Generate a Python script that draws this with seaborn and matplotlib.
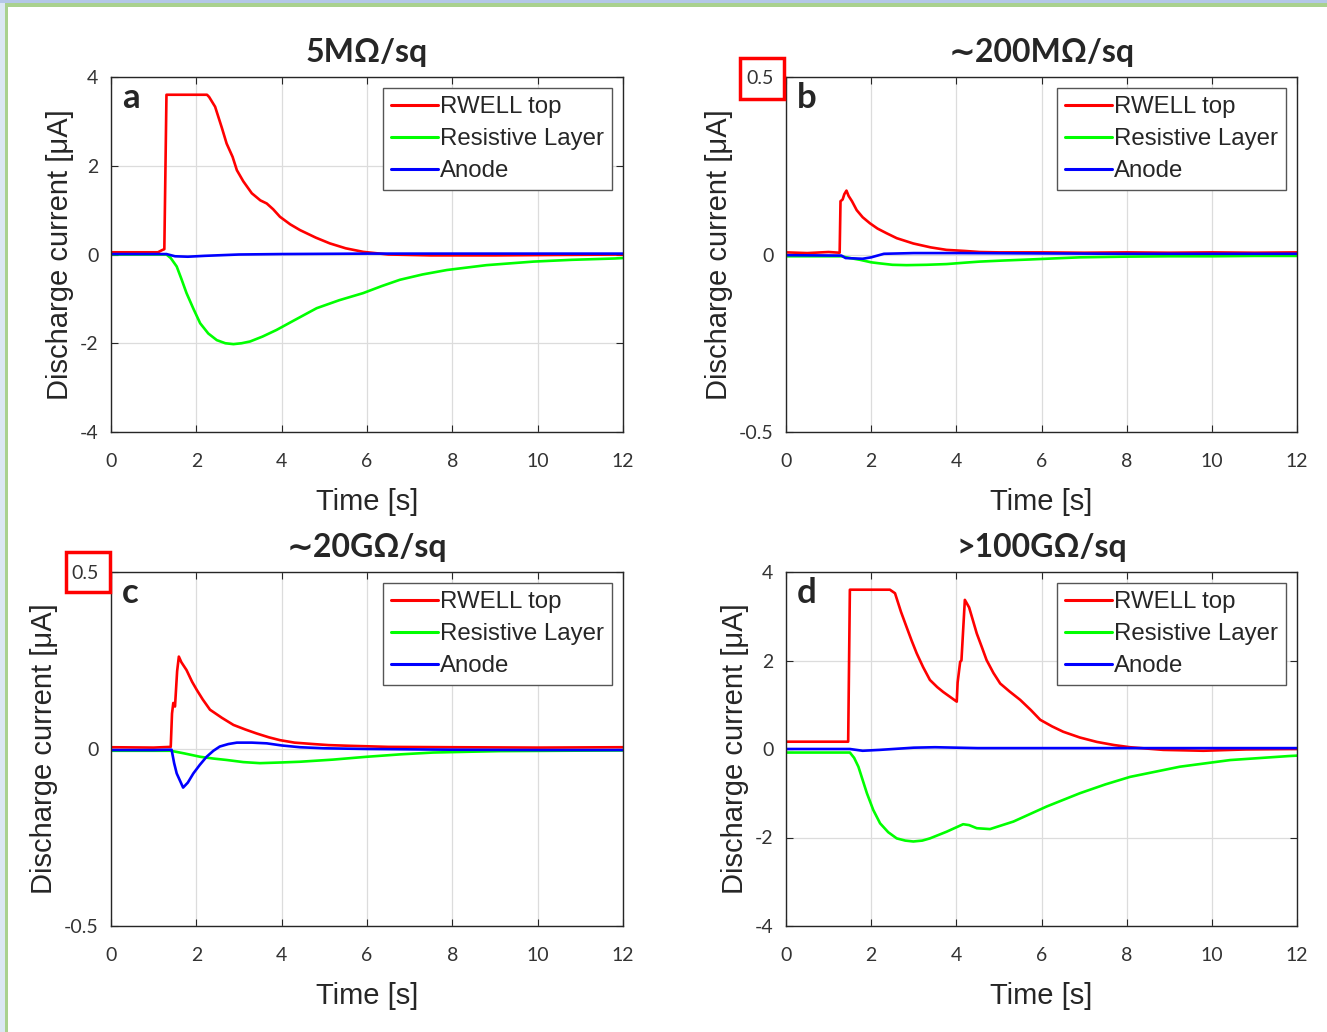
import numpy as np
import pandas as pd
import matplotlib
matplotlib.use("Agg")
import matplotlib.pyplot as plt
from matplotlib.patches import Rectangle
import seaborn as sns

# ---------------- data ----------------
series_names = ["RWELL top", "Resistive Layer", "Anode"]
series_colors = ["#ff0000", "#00ff00", "#0000ff"]
panel_titles = ["5M\u03a9/sq", "\u223c200M\u03a9/sq", "\u223c20G\u03a9/sq", ">100G\u03a9/sq"]
panel_letters = ["a", "b", "c", "d"]
x_ticks = [0, 2, 4, 6, 8, 10, 12]
y_ticks_big = [-4, -2, 0, 2, 4]
y_ticks_small = [-0.5, 0, 0.5]

# panel a : 5 MOhm/sq
t_a_red = [0, 1.1, 1.2, 1.25, 1.3, 2.25, 2.3, 2.44, 2.6, 2.71, 2.85, 2.95, 3.1, 3.3, 3.5,
           3.65, 3.8, 3.96, 4.2, 4.43, 4.8, 5.13, 5.5, 5.91, 6.5, 7.5, 9, 10.5, 12]
v_a_red = [0.05, 0.05, 0.1, 0.12, 3.6, 3.6, 3.55, 3.33, 2.85, 2.5, 2.2, 1.9, 1.65, 1.38, 1.22,
           1.15, 1.02, 0.85, 0.68, 0.55, 0.38, 0.25, 0.14, 0.06, 0.0, -0.02, -0.02, -0.01, 0.0]
t_a_green = [0, 1.3, 1.4, 1.54, 1.65, 1.77, 1.93, 2.09, 2.28, 2.48, 2.68, 2.87, 3.06, 3.26, 3.55,
             3.88, 4.3, 4.82, 5.35, 5.91, 6.35, 6.77, 7.3, 7.87, 8.8, 9.9, 10.8, 11.8, 12]
v_a_green = [0, 0, -0.08, -0.27, -0.55, -0.87, -1.22, -1.55, -1.78, -1.93, -2.0, -2.02, -2.0, -1.96, -1.85,
             -1.70, -1.48, -1.21, -1.03, -0.87, -0.71, -0.57, -0.45, -0.35, -0.24, -0.16, -0.12, -0.09, -0.08]
t_a_blue = [0, 1.3, 1.5, 1.8, 2.2, 3, 4, 6, 8, 10, 12]
v_a_blue = [0.01, 0.01, -0.04, -0.05, -0.03, 0.0, 0.01, 0.02, 0.02, 0.02, 0.02]

# panel b : ~200 MOhm/sq
t_b_red = [0, 0.5, 1.0, 1.26, 1.28, 1.33, 1.37, 1.42, 1.47, 1.55, 1.66, 1.8, 1.97, 2.15, 2.36,
           2.6, 2.99, 3.4, 3.77, 4.2, 4.55, 5, 6, 7, 8, 9, 10, 11, 12]
v_b_red = [0.006, 0.004, 0.007, 0.005, 0.15, 0.155, 0.17, 0.18, 0.165, 0.15, 0.125, 0.105, 0.088, 0.073, 0.06,
           0.046, 0.031, 0.02, 0.013, 0.01, 0.007, 0.006, 0.006, 0.005, 0.006, 0.005, 0.006, 0.005, 0.006]
t_b_green = [0, 1.3, 1.5, 1.74, 2.0, 2.2, 2.5, 2.83, 3.3, 3.77, 4.2, 4.55, 5.1, 5.73, 6.3,
             6.9, 8, 9, 10, 11, 12]
v_b_green = [-0.005, -0.005, -0.01, -0.015, -0.022, -0.025, -0.029, -0.03, -0.029, -0.027, -0.023, -0.02,
             -0.017, -0.014, -0.011, -0.008, -0.006, -0.005, -0.005, -0.004, -0.004]
t_b_blue = [0, 1.3, 1.4, 1.8, 2.0, 2.3, 3, 4, 6, 8, 10, 12]
v_b_blue = [-0.002, -0.003, -0.01, -0.012, -0.008, 0.002, 0.004, 0.004, 0.003, 0.002, 0.002, 0.002]

# panel c : ~20 GOhm/sq
t_c_red = [0, 1.0, 1.4, 1.43, 1.46, 1.5, 1.55, 1.59, 1.65, 1.77, 1.9, 2.01, 2.15, 2.32, 2.6,
           2.87, 3.15, 3.41, 3.7, 3.96, 4.3, 4.74, 5.1, 5.6, 6.5, 8, 10, 12]
v_c_red = [0.005, 0.004, 0.006, 0.1, 0.13, 0.12, 0.22, 0.261, 0.245, 0.223, 0.19, 0.167, 0.14, 0.111, 0.088,
           0.068, 0.055, 0.044, 0.033, 0.025, 0.018, 0.014, 0.011, 0.009, 0.006, 0.005, 0.004, 0.005]
t_c_green = [0, 1.4, 1.7, 2.09, 2.4, 2.71, 3.1, 3.49, 4.0, 4.43, 5.2, 5.99, 6.8, 7.55, 8.3, 9.1, 10.5, 12]
v_c_green = [-0.005, -0.005, -0.012, -0.022, -0.027, -0.031, -0.037, -0.04, -0.038, -0.036, -0.03, -0.022,
             -0.015, -0.01, -0.008, -0.006, -0.005, -0.004]
t_c_blue = [0, 1.0, 1.42, 1.48, 1.54, 1.6, 1.69, 1.8, 1.93, 2.08, 2.24, 2.4, 2.55, 2.75, 2.95,
            3.3, 3.65, 4.0, 4.43, 5, 6, 8, 10, 12]
v_c_blue = [-0.003, -0.003, -0.002, -0.04, -0.069, -0.085, -0.109, -0.095, -0.069, -0.045, -0.022, -0.005,
            0.007, 0.014, 0.018, 0.018, 0.016, 0.01, 0.005, 0.002, 0.0, -0.002, -0.003, -0.003]

# panel d : >100 GOhm/sq
t_d_red = [0, 1.46, 1.5, 2.44, 2.56, 2.7, 2.83, 2.95, 3.07, 3.22, 3.38, 3.55, 3.69, 3.85, 4.01,
           4.03, 4.09, 4.12, 4.2, 4.3, 4.48, 4.6, 4.71, 4.87, 5.03, 5.25, 5.5, 5.75, 5.97, 6.25,
           6.51, 6.9, 7.3, 7.7, 8.08, 8.86, 9.8, 10.8, 12]
v_d_red = [0.165, 0.165, 3.6, 3.6, 3.52, 3.1, 2.76, 2.45, 2.16, 1.85, 1.56, 1.4, 1.29, 1.18, 1.07,
           1.5, 1.97, 2.0, 3.37, 3.2, 2.61, 2.3, 2.01, 1.72, 1.48, 1.3, 1.11, 0.88, 0.66, 0.51,
           0.39, 0.26, 0.16, 0.09, 0.04, -0.02, -0.04, -0.01, 0.0]
t_d_green = [0, 1.5, 1.6, 1.7, 1.8, 1.9, 2.05, 2.21, 2.4, 2.6, 2.8, 2.99, 3.2, 3.38, 3.77, 4.16,
             4.3, 4.48, 4.79, 5.34, 6.12, 6.9, 7.5, 8.08, 9.25, 10.43, 11.8, 12]
v_d_green = [-0.08, -0.08, -0.2, -0.4, -0.7, -1.0, -1.38, -1.68, -1.88, -2.02, -2.07, -2.09, -2.07, -2.02,
             -1.87, -1.70, -1.72, -1.79, -1.81, -1.64, -1.30, -1.0, -0.8, -0.63, -0.40, -0.25, -0.16, -0.15]
t_d_blue = [0, 1.5, 1.8, 2.2, 3.0, 3.5, 4.5, 6, 8, 10, 12]
v_d_blue = [0.0, 0.0, -0.04, -0.02, 0.03, 0.04, 0.02, 0.02, 0.02, 0.02, 0.02]

panels = [
    [(t_a_red, v_a_red), (t_a_green, v_a_green), (t_a_blue, v_a_blue)],
    [(t_b_red, v_b_red), (t_b_green, v_b_green), (t_b_blue, v_b_blue)],
    [(t_c_red, v_c_red), (t_c_green, v_c_green), (t_c_blue, v_c_blue)],
    [(t_d_red, v_d_red), (t_d_green, v_d_green), (t_d_blue, v_d_blue)],
]
panel_yticks = [y_ticks_big, y_ticks_small, y_ticks_small, y_ticks_big]

# ---------------- style ----------------
sns.set_theme(style="ticks")
plt.rcParams["font.family"] = ["Liberation Sans", "DejaVu Sans"]
plt.rcParams["axes.linewidth"] = 1.0

W, H = 1327, 1032
fig = plt.figure(figsize=(W / 100, H / 100), dpi=100)
fig.patch.set_facecolor("white")

def px_axes(x0, y0, x1, y1):
    return [x0 / W, 1 - y1 / H, (x1 - x0) / W, (y1 - y0) / H]

rects = [px_axes(111, 77, 623, 432), px_axes(786, 77, 1297, 432),
         px_axes(111, 572, 623, 926), px_axes(786, 572, 1297, 926)]

for i in range(4):
    ax = fig.add_axes(rects[i])
    for (t, v), name, col in zip(panels[i], series_names, series_colors):
        df = pd.DataFrame({"t": t, "v": v})
        sns.lineplot(data=df, x="t", y="v", ax=ax, color=col, linewidth=1.9,
                     estimator=None, sort=False, label=name)
    yt = panel_yticks[i]
    ax.set_xlim(0, 12)
    ax.set_ylim(yt[0], yt[-1])
    ax.set_xticks(x_ticks)
    ax.set_yticks(yt)
    ax.set_xticklabels([str(x) for x in x_ticks])
    ax.set_yticklabels([("%g" % y) for y in yt])
    ax.grid(True, color="#dcdcdc", linewidth=0.9)
    ax.set_axisbelow(True)
    for s in ax.spines.values():
        s.set_color("#262626")
        s.set_linewidth(1.0)
    ax.tick_params(direction="in", length=5, width=0.8, top=True, right=True,
                   colors="#262626", labelsize=14)
    ax.tick_params(axis="x", pad=15)
    ax.tick_params(axis="y", pad=9)
    for lab in ax.get_xticklabels() + ax.get_yticklabels():
        lab.set_family(["Lato", "DejaVu Sans"])
        lab.set_color("#333333")
    ax.set_xlabel("Time [s]", fontsize=21, color="#262626", labelpad=13)
    ax.set_ylabel("Discharge current [\u03bcA]", fontsize=21, color="#262626", labelpad=4)
    ax.set_title(panel_titles[i], fontsize=23, fontweight="bold", pad=11,
                 family=["Lato", "DejaVu Sans"])
    ax.text(0.022, 0.985, panel_letters[i], transform=ax.transAxes, ha="left", va="top",
            fontsize=25, fontweight="bold", family=["Lato", "DejaVu Sans"])
    leg = ax.legend(loc="upper right", fontsize=17.3, frameon=True, fancybox=False,
                    edgecolor="#555555", framealpha=1, handlelength=1.95, handletextpad=0.1,
                    borderaxespad=0.45, labelspacing=0.42, borderpad=0.34)
    leg.get_frame().set_linewidth(1.0)
    for line in leg.get_lines():
        line.set_linewidth(2.2)

# red highlight boxes around the 0.5 tick labels
for (x0, y0, x1, y1) in [(740, 58, 784, 99), (66, 552, 110, 592)]:
    fig.add_artist(Rectangle((x0 / W, 1 - y1 / H), (x1 - x0) / W, (y1 - y0) / H,
                             transform=fig.transFigure, fill=False, edgecolor="#ff0000",
                             linewidth=2.5))

# slide border bands
fig.add_artist(Rectangle((0, 1 - 3 / H), 1, 3 / H, transform=fig.transFigure,
                         facecolor="#b4c7e7", edgecolor="none"))
fig.add_artist(Rectangle((0, 1 - 7 / H), 1, 4 / H, transform=fig.transFigure,
                         facecolor="#a9d18e", edgecolor="none"))
fig.add_artist(Rectangle((0, 0), 5 / W, 1 - 3 / H, transform=fig.transFigure,
                         facecolor="#dbe7f3", edgecolor="none"))
fig.add_artist(Rectangle((5 / W, 0), 3 / W, 1 - 3 / H, transform=fig.transFigure,
                         facecolor="#a9d18e", edgecolor="none"))

fig.savefig("out.png", dpi=100)
